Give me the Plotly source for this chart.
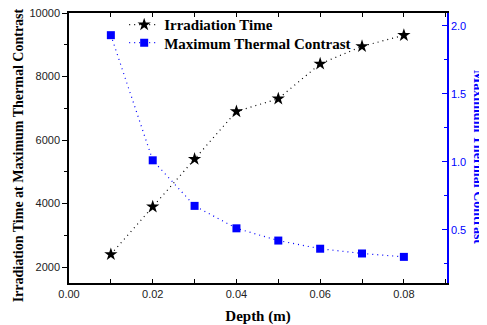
import plotly.graph_objects as go

depth = [0.01, 0.02, 0.03, 0.04, 0.05, 0.06, 0.07, 0.08]
irradiation_time = [2400, 3900, 5400, 6900, 7300, 8400, 8950, 9300]
max_contrast = [1.93, 1.01, 0.675, 0.51, 0.42, 0.36, 0.325, 0.30]

serif = "Liberation Serif, Times New Roman, serif"
sans = "Liberation Sans, Arial, sans-serif"
blue = "#0000ff"

fig = go.Figure()
fig.add_trace(go.Scatter(
    x=depth, y=irradiation_time, name="Irradiation Time",
    mode="lines+markers", legend="legend",
    line=dict(color="black", width=1.2, dash="1px,4px"),
    marker=dict(symbol="star", size=10, color="black"),
))
fig.add_trace(go.Scatter(
    x=depth, y=max_contrast, name="Maximum Thermal Contrast", yaxis="y2",
    mode="lines+markers", legend="legend2",
    line=dict(color=blue, width=1.2, dash="1px,4px"),
    marker=dict(symbol="square", size=8, color=blue),
))

legend_common = dict(
    xanchor="left", yanchor="middle",
    bgcolor="rgba(0,0,0,0)", borderwidth=0,
    font=dict(family=serif, size=15, color="black", weight="bold"),
    itemwidth=30,
)

# The page body has an 8px default margin, so the figure is sized/offset to compensate.
fig.update_layout(
    width=479, height=317,
    margin=dict(l=61, r=40, t=5, b=42, autoexpand=False),
    paper_bgcolor="white", plot_bgcolor="white",
    showlegend=True,
    legend=dict(x=0.146, y=0.956, **legend_common),
    legend2=dict(x=0.146, y=0.889, **legend_common),
    xaxis=dict(
        range=[0, 0.0903], showgrid=False, zeroline=False,
        showline=True, linecolor="black", linewidth=1.5, mirror="ticks",
        ticks="inside", ticklen=4, tickcolor="black", tickwidth=1,
        dtick=0.02, tick0=0, tickformat=".2f",
        minor=dict(ticks="inside", dtick=0.01, ticklen=4, tickcolor="black", showgrid=False),
        tickfont=dict(family=sans, size=11, color="#222222"),
        title=dict(text="<b>Depth (m)</b>", font=dict(family=serif, size=15, color="black"), standoff=12),
    ),
    yaxis=dict(
        range=[1500, 10000], showgrid=False, zeroline=False,
        showline=True, linecolor="black", linewidth=1.5, mirror=False,
        ticks="outside", ticklen=5, tickcolor="black",
        dtick=2000, tick0=0, tickformat="d", ticklabeloverflow="allow",
        minor=dict(ticks="outside", dtick=1000, ticklen=3, tickcolor="black", showgrid=False),
        tickfont=dict(family=sans, size=11, color="#222222"),
    ),
    yaxis2=dict(
        range=[0.108, 2.093], overlaying="y", side="right",
        showgrid=False, zeroline=False,
        showline=True, linecolor=blue, linewidth=1.5,
        ticks="inside", ticklen=5, tickcolor=blue,
        dtick=0.5, tick0=0, tickformat=".1f", ticklabeloverflow="allow",
        minor=dict(ticks="inside", dtick=0.25, ticklen=3, tickcolor=blue, showgrid=False),
        tickfont=dict(family=sans, size=11, color=blue),
    ),
    annotations=[
        dict(text="<b>Irradiation Time at Maximum Thermal Contrast</b>",
             xref="paper", yref="paper", x=-0.134, y=0.474, xanchor="center", yanchor="middle",
             textangle=-90, showarrow=False,
             font=dict(family=serif, size=14, color="black")),
        dict(text="<b>Maximum Thermal Contrast</b>",
             xref="paper", yref="paper", x=1.083, y=0.465, xanchor="center", yanchor="middle",
             textangle=90, showarrow=False,
             font=dict(family=serif, size=14, color=blue)),
    ],
)

fig.write_html("out.html")
